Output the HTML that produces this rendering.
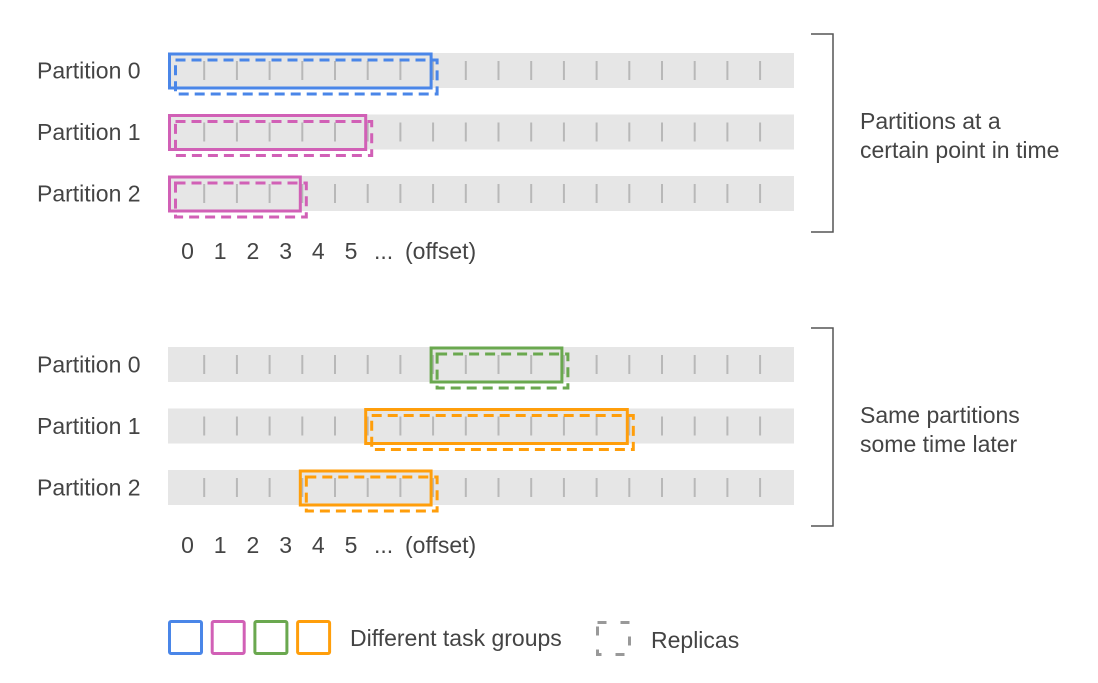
<!DOCTYPE html>
<html><head><meta charset="utf-8">
<style>
body{margin:0;background:#fff;}
svg{display:block;font-family:"Liberation Sans",sans-serif;}
text{fill:#444;font-size:23px;}
</style></head>
<body>
<svg id="chart" width="1098" height="683" viewBox="0 0 1098 683"></svg>
<script>
const rowLabels = ["Partition 0","Partition 1","Partition 2"];
const topStart = [0,0,0];
const topLen = [8,6,4];
const topColor = ["#4a86e8","#d160b6","#d160b6"];
const botStart = [8,6,4];
const botLen = [4,8,4];
const botColor = ["#6aa84f","#ff9e0b","#ff9e0b"];
const offsetLabels = ["0","1","2","3","4","5"];
const numTicks = 18;
const legendColors = ["#4a86e8","#d160b6","#6aa84f","#ff9e0b"];
const sectionTexts = [["Partitions at a","certain point in time"],["Same partitions","some time later"]];

const NS="http://www.w3.org/2000/svg";
const svg=document.getElementById('chart');
const X0=168.5, CW=32.7, BARW=626, BARH=35;
const xs=o=>X0+o*CW;
function el(tag,attrs,parent){const e=document.createElementNS(NS,tag);for(const k in attrs)e.setAttribute(k,attrs[k]);(parent||svg).appendChild(e);return e;}

function section(y0,starts,lens,colors,si){
  const g=el('g',{});
  
  
  rowLabels.forEach((lab,i)=>{
    const y=y0+i*61.5;
    const t=el('text',{x:37,y:y+BARH/2+8},g);t.textContent=lab;
    
    
    const b=el('rect',{x:168,y:y,width:BARW,height:BARH,fill:'#e6e6e6'},g);
    
    
    for(let k=1;k<=numTicks;k++){
      const tk=el('line',{x1:xs(k)+3,x2:xs(k)+3,y1:y+8,y2:y+BARH-8,stroke:'#b8b8b8','stroke-width':2},g);
      
      
    }
    const w=lens[i]*CW;
    const s=el('rect',{x:xs(starts[i])+1,y:y+1,width:w,height:BARH-1,fill:'none',stroke:colors[i],'stroke-width':3},g);
    
    
    const d=el('rect',{x:xs(starts[i])+7,y:y+7,width:w,height:BARH-1,fill:'none',stroke:colors[i],'stroke-width':3,'stroke-dasharray':'10,6'},g);
    
    
  });
  const ly=y0+206;
  offsetLabels.forEach((l,i)=>{
    const t=el('text',{x:xs(i)+19,y:ly,'text-anchor':'middle','font-size':'21'},g);t.textContent=l;
    
    
  });
  const t1=el('text',{x:374,y:ly,'font-size':'21'},g);t1.textContent='...';
  
  
  const t2=el('text',{x:405,y:ly,'font-size':'21.5'},g);t2.textContent='(offset)';
  
  
  const by=y0-19;
  const br=el('path',{d:`M811 ${by} H833 V${by+198} H811`,fill:'none',stroke:'#555','stroke-width':1.5},g);
  
  
  sectionTexts[si].forEach((s,j)=>{
    const t=el('text',{x:860,y:by+95+j*29},g);t.textContent=s;
    
    
  });
}
section(53,topStart,topLen,topColor,0);
section(347,botStart,botLen,botColor,1);

const lg=el('g',{});


legendColors.forEach((c,i)=>{
  const r=el('rect',{x:169.5+i*42.7,y:621.5,width:32,height:32,rx:1.5,fill:'none',stroke:c,'stroke-width':3},lg);
  
  
});
const lt=el('text',{x:350,y:646},lg);lt.textContent='Different task groups';


const rr=el('rect',{x:597.5,y:622.5,width:32,height:32,fill:'none',stroke:'#999','stroke-width':3,'stroke-dasharray':'9,14'},lg);


const rt=el('text',{x:651,y:648},lg);rt.textContent='Replicas';


</script>
</body></html>
